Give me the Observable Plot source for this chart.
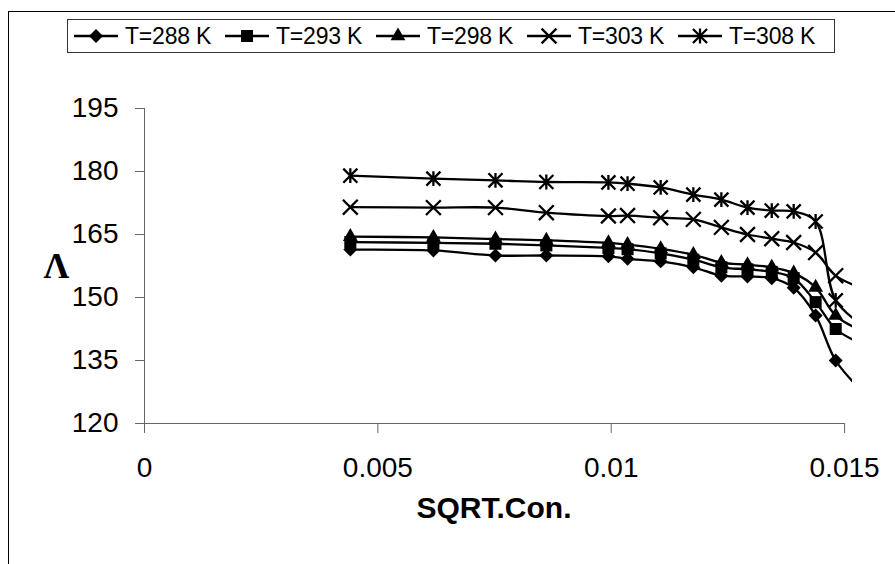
<!DOCTYPE html>
<html>
<head>
<meta charset="utf-8">
<script src="https://cdn.jsdelivr.net/npm/d3@7"></script>
<script src="https://cdn.jsdelivr.net/npm/@observablehq/plot@0.6"></script>
<style>
  html, body { margin: 0; padding: 0; background: #fff; }
  body { font-family: "Liberation Sans", Arial, sans-serif; }
  #wrap { position: relative; width: 895px; height: 564px; overflow: hidden; }
  #frame { position: absolute; left: 8px; top: 11px; width: 1200px; height: 1200px;
           border-left: 1.5px solid #000; border-top: 1.5px solid #000; }
  #legend { position: absolute; left: 67px; top: 19px; width: 760px; height: 32px;
            border: 1px solid #333; display: flex; align-items: center; padding-left: 6px; box-sizing: content-box; }
  .item { display: flex; align-items: center; width: 151px; flex: none; }
  .item svg { flex: none; }
  .item span { font-size: 23px; margin-left: 7px; color: #000; white-space: nowrap; letter-spacing: -0.2px; }
  #chart { position: absolute; left: 0; top: 60px; }
</style>
</head>
<body>
<div id="wrap">
  <div id="frame"></div>
  <div id="legend"></div>
  <div id="chart"></div>
</div>
<script>
// ---- data ----
const sqrtCon = [0.00441, 0.00619, 0.00752, 0.00861, 0.00994, 0.01035, 0.01106, 0.01176, 0.01236, 0.01292, 0.01344, 0.01391, 0.01438, 0.01481, 0.0154];
const seriesNames = ["T=288 K", "T=293 K", "T=298 K", "T=303 K", "T=308 K"];
const lambda288 = [161.4, 161.2, 160.0, 160.0, 159.8, 159.2, 158.6, 157.2, 155.2, 155.0, 154.6, 152.3, 145.7, 135.0, 127.4];
const lambda293 = [163.2, 163.0, 162.8, 162.4, 161.8, 161.5, 160.5, 159.0, 157.2, 156.7, 156.1, 154.6, 148.9, 142.5, 138.8];
const lambda298 = [164.5, 164.3, 163.9, 163.6, 163.0, 162.6, 161.6, 160.2, 158.3, 157.8, 157.2, 155.8, 152.4, 145.7, 141.9];
const lambda303 = [171.5, 171.4, 171.4, 170.2, 169.4, 169.5, 169.0, 168.6, 166.7, 165.0, 164.0, 163.1, 160.7, 155.2, 152.1];
const lambda308 = [179.0, 178.3, 177.9, 177.5, 177.4, 177.1, 176.2, 174.5, 173.3, 171.4, 170.7, 170.5, 168.1, 149.3, 143.3];
const xTicks = [0, 0.005, 0.01, 0.015];
const xTickLabels = ["0", "0.005", "0.01", "0.015"];
const yTicks = [120, 135, 150, 165, 180, 195];
const xTitle = "SQRT.Con.";
const yTitle = "Λ";

// ---- build table ----
const seriesValues = [lambda288, lambda293, lambda298, lambda303, lambda308];
const rows = seriesNames.flatMap((name, i) =>
  sqrtCon.map((x, j) => ({series: name, x, y: seriesValues[i][j]})));

// custom star: vertical bar + X
const starSymbol = {
  draw(context, size) {
    const r = Math.sqrt(size / Math.PI);
    const d = r * 0.95;
    context.moveTo(0, -r); context.lineTo(0, r);
    context.moveTo(-d, -d); context.lineTo(d, d);
    context.moveTo(-d, d); context.lineTo(d, -d);
  }
};
const markerStyles = [
  {symbol: d3.symbolDiamond2, r: 6.3, filled: true},
  {symbol: d3.symbolSquare, r: 6.8, filled: true},
  {symbol: d3.symbolTriangle, r: 5.5, filled: true},
  {symbol: d3.symbolTimes, r: 6.8, filled: false},
  {symbol: starSymbol, r: 7.4, filled: false}
];

const font = "'Liberation Sans', Arial, sans-serif";

const marks = [
  Plot.ruleX([0], {y1: 120, y2: 195, stroke: "#666", strokeWidth: 1}),
  Plot.ruleY([120], {x1: 0, x2: 0.015, stroke: "#666", strokeWidth: 1}),
  Plot.axisY({ticks: yTicks, tickSize: 9, tickPadding: 17, stroke: "#666", fill: "#000", label: null, fontSize: 28}),
  Plot.axisX({ticks: xTicks, tickSize: 10, tickPadding: 24, stroke: "#666", fill: "#000", label: null, fontSize: 28,
              tickFormat: d => xTickLabels[xTicks.indexOf(d)]}),
  Plot.line(rows, {x: "x", y: "y", z: "series", curve: "catmull-rom", stroke: "#000", strokeWidth: 2.3, clip: true}),
  ...seriesNames.map((name, i) => {
    const m = markerStyles[i];
    return Plot.dot(rows.filter(d => d.series === name), {
      x: "x", y: "y", symbol: () => m.symbol, r: m.r,
      fill: m.filled ? "#000" : "none",
      stroke: m.filled ? "none" : "#000",
      strokeWidth: m.filled ? 0 : 2.3,
      clip: true
    });
  }),
  Plot.text([yTitle], {text: d => d, frameAnchor: "left", dx: -101, fontSize: 36, fontWeight: "bold",
                       fontFamily: "'Liberation Serif', 'Times New Roman', serif", fill: "#000"}),
  Plot.text([xTitle], {text: d => d, frameAnchor: "bottom", dy: 94, dx: -4.5, fontSize: 30, fontWeight: "bold",
                       fill: "#000"})
];

const chart = Plot.plot({
  width: 895,
  height: 504,
  marginLeft: 144,
  marginRight: 43,
  marginTop: 48,
  marginBottom: 141,
  x: {domain: [0, 0.01517]},
  y: {domain: [120, 195]},
  symbol: {type: "identity"},
  style: {fontFamily: font, fontSize: "28px", color: "#000", background: "transparent", overflow: "visible"},
  marks
});
document.getElementById("chart").appendChild(chart);

// ---- legend ----
const legend = d3.select("#legend");
seriesNames.forEach((name, i) => {
  const m = markerStyles[i];
  const item = legend.append("div").attr("class", "item");
  const svg = item.append("svg").attr("width", 44).attr("height", 20);
  svg.append("line").attr("x1", 0).attr("x2", 44).attr("y1", 10).attr("y2", 10)
     .attr("stroke", "#000").attr("stroke-width", 2.3);
  svg.append("path")
     .attr("transform", "translate(22,10)")
     .attr("d", d3.symbol(m.symbol, Math.PI * m.r * m.r)())
     .attr("fill", m.filled ? "#000" : "none")
     .attr("stroke", m.filled ? "none" : "#000")
     .attr("stroke-width", m.filled ? 0 : 2.3);
  item.append("span").text(name);
});
</script>
</body>
</html>
